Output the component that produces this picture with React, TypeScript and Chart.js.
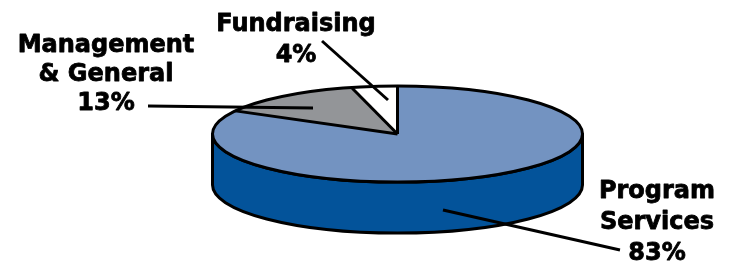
import React, { useEffect, useRef } from "react";
import { Chart, registerables } from "chart.js";

Chart.register(...registerables);

// ---- data ----
const categories = ["Program Services", "Management & General", "Fundraising"];
const values = [83, 13, 4];
const labelLines = [
  ["Program", "Services", "83%"],
  ["Management", "& General", "13%"],
  ["Fundraising", "4%"],
];
const topColors = ["#7393C1", "#939598", "#FFFFFF"];
const sideColors = ["#03539A", "#6B6C70", "#D0D0D0"];

// ---- layout (not data) ----
const W = 732;
const H = 264;
const RADIUS = 185;
const TILT = 48 / 185;
const DEPTH = 51;
const OUTLINE = 3;
const FONT = 'bold 24px "DejaVu Sans", sans-serif';
const labelLayout = [
  { x: 657, y: 198, lh: 31, from: [620, 250], to: [443, 210] },
  { x: 106, y: 52, lh: 29, from: [148, 106], to: [313, 108] },
  { x: 296, y: 31, lh: 31, from: [322, 41], to: [388, 100] },
];

const pie3d = {
  id: "pie3d",
  beforeDatasetsDraw(chart: any) {
    const ctx = chart.ctx as CanvasRenderingContext2D;
    const arcs = chart.getDatasetMeta(0).data as any[];
    const cx = arcs[0].x;
    const cy = arcs[0].y;
    const r = arcs[0].outerRadius;
    const ry = r * TILT;
    ctx.save();
    ctx.lineWidth = OUTLINE;
    ctx.strokeStyle = "#000";
    ctx.lineJoin = "round";
    arcs.forEach((a, i) => {
      const s = Math.max(a.startAngle, 0);
      const e = Math.min(a.endAngle, Math.PI);
      if (e <= s) return;
      ctx.beginPath();
      ctx.ellipse(cx, cy, r, ry, 0, s, e);
      ctx.lineTo(cx + r * Math.cos(e), cy + DEPTH + ry * Math.sin(e));
      ctx.ellipse(cx, cy + DEPTH, r, ry, 0, e, s, true);
      ctx.closePath();
      ctx.fillStyle = sideColors[i];
      ctx.fill();
      ctx.stroke();
    });
    ctx.restore();
    ctx.save();
    ctx.translate(0, cy);
    ctx.scale(1, TILT);
    ctx.translate(0, -cy);
  },
  afterDatasetsDraw(chart: any) {
    const ctx = chart.ctx as CanvasRenderingContext2D;
    ctx.restore();
    const arcs = chart.getDatasetMeta(0).data as any[];
    const cx = arcs[0].x;
    const cy = arcs[0].y;
    const r = arcs[0].outerRadius;
    const ry = r * TILT;
    ctx.save();
    ctx.lineWidth = OUTLINE;
    ctx.strokeStyle = "#000";
    ctx.lineJoin = "round";
    ctx.beginPath();
    ctx.ellipse(cx, cy, r, ry, 0, 0, Math.PI * 2);
    ctx.stroke();
    arcs.forEach((a) => {
      ctx.beginPath();
      ctx.moveTo(cx, cy);
      ctx.lineTo(cx + r * Math.cos(a.startAngle), cy + ry * Math.sin(a.startAngle));
      ctx.stroke();
    });
    ctx.restore();
  },
  afterDraw(chart: any) {
    const ctx = chart.ctx as CanvasRenderingContext2D;
    ctx.save();
    ctx.fillStyle = "#000";
    ctx.strokeStyle = "#000";
    ctx.font = FONT;
    ctx.textAlign = "center";
    ctx.textBaseline = "alphabetic";
    ctx.lineJoin = "round";
    labelLayout.forEach((l, i) => {
      labelLines[i].forEach((t, j) => {
        ctx.lineWidth = 0.8;
        ctx.fillText(t, l.x, l.y + j * l.lh);
        ctx.strokeText(t, l.x, l.y + j * l.lh);
      });
      ctx.lineWidth = 3;
      ctx.beginPath();
      ctx.moveTo(l.from[0], l.from[1]);
      ctx.lineTo(l.to[0], l.to[1]);
      ctx.stroke();
    });
    ctx.restore();
  },
};

export default function App() {
  const ref = useRef<HTMLCanvasElement>(null);
  useEffect(() => {
    if (!ref.current) return;
    const chart = new Chart(ref.current, {
      type: "pie",
      data: {
        labels: categories,
        datasets: [
          {
            data: values,
            backgroundColor: topColors,
            borderWidth: 0,
            radius: RADIUS,
            clip: false as any,
          } as any,
        ],
      },
      options: {
        responsive: false,
        animation: false,
        events: [],
        layout: { padding: { left: 63, top: 4, right: 0, bottom: 0 } },
        plugins: { legend: { display: false }, tooltip: { enabled: false } },
      },
      plugins: [pie3d],
    });
    return () => chart.destroy();
  }, []);
  return (
    <div style={{ position: "fixed", left: 0, top: 0, width: W, height: H, background: "#fff", overflow: "hidden" }}>
      <canvas ref={ref} width={W} height={H} style={{ width: W, height: H, display: "block" }} />
    </div>
  );
}
